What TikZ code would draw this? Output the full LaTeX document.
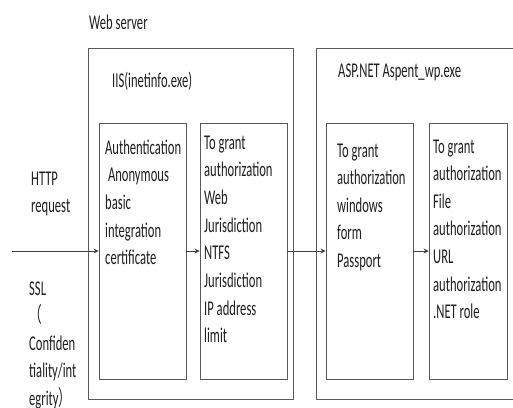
\documentclass[tikz,border=0pt]{standalone}
\usepackage{fontspec}
\setmainfont{Carlito}[FakeStretch=0.6]
\newfontfamily\cjk{Noto Sans CJK SC}[FakeStretch=0.6]
\usetikzlibrary{arrows.meta}
\newcommand{\wlp}{{\cjk （}}
\newcommand{\wrp}{{\cjk ）}}
\tikzset{
  box/.style={draw=black!65, line width=0.8pt, inner sep=0pt},
  txt/.style={anchor=base west, inner sep=0pt, font=\fontsize{21}{27.6}\selectfont, text=black!88},
  flow/.style={-{Stealth[length=5pt,width=5pt]}, draw=black!75, line width=0.8pt}
}
\begin{document}
\begin{tikzpicture}[x=1pt,y=-1pt]
            \useasboundingbox (0,0) rectangle (513,407);
            \node[txt] (web) at (89,29) {Web server};
            % the two processes
            \node[box, minimum width=205, minimum height=351] (iis) at (190.5,223.5) {};
            \node[box, minimum width=200, minimum height=351] (asp) at (416,223.5) {};
            \node[txt] (iisname) at (112,87) {IIS(inetinfo.exe)};
            \node[txt] (aspname) at (338,77) {ASP.NET Aspent\_wp.exe};
            % steps
            \node[box, minimum width=87, minimum height=256] (auth) at (142.5,251) {};
            \node[box, minimum width=87, minimum height=256] (grant) at (243.5,251) {};
            \node[box, minimum width=87, minimum height=256] (form) at (369.5,251) {};
            \node[box, minimum width=78, minimum height=256] (role) at (468,251) {};
            \foreach \t [count=\i from 0] in {Authentication,\ Anonymous,basic,integration,certificate}{
              \node[txt] (auth\i) at (105,{154+27.7*\i}) {\t};
            }
            \foreach \t [count=\i from 0] in {To grant,authorization,Web,Jurisdiction,NTFS,Jurisdiction,IP address,limit}{
              \node[txt] (grant\i) at (204,{149+27.7*\i}) {\t};
            }
            \foreach \t [count=\i from 0] in {To grant,authorization,windows,form,Passport}{
              \node[txt] (form\i) at (337,{157+27.6*\i}) {\t};
            }
            \foreach \t [count=\i from 0] in {To grant,authorization,File,authorization,URL,authorization,.NET role}{
              \node[txt] (role\i) at (433,{153+27.6*\i}) {\t};
            }
            % request side
            \node[txt] (http) at (31,185) {HTTP};
            \node[txt] (req) at (31,212) {request};
            \foreach \t [count=\i from 0] in {SSL,\wlp,Confiden,tiality/int,egrity\wrp}{
              \node[txt] (ssl\i) at (29,{295+27.5*\i}) {\t};
            }
            \coordinate (in) at (12,251);
            \draw[flow] (in) -- (auth);
            \draw[flow] (auth) -- (grant);
            \draw[flow] (grant) -- (form);
            \draw[flow] (form) -- (role);
          \end{tikzpicture}
\end{document}
